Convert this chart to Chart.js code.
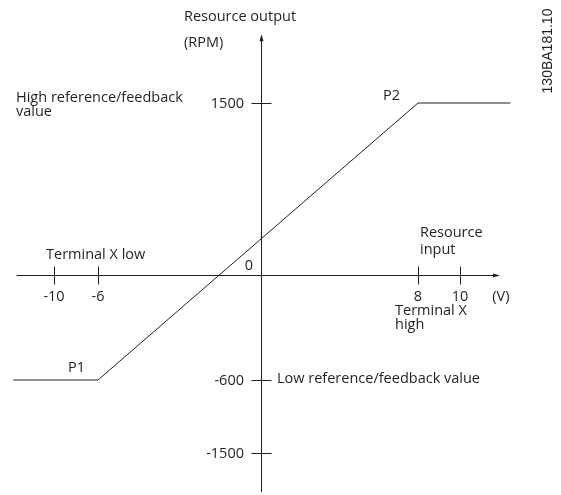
<!DOCTYPE html>
<html><head><meta charset="utf-8">
<script src="https://cdn.jsdelivr.net/npm/chart.js@4/dist/chart.umd.min.js"></script>
<style>html,body{margin:0;padding:0;background:#fff}canvas{display:block}</style>
</head><body>
<canvas id="c" width="561" height="495"></canvas>
<script>
// ---- data ----
const xTickValues = [-10, -6, 8, 10];
const xTickLabels = ['-10', '-6', '8', '10'];
const yTickValues = [1500, -600, -1500];
const yTickLabels = ['1500', '-600', '-1500'];
const curveX = [-13.7, -6, 8, 12.4];     // input (V)
const curveY = [-600, -600, 1500, 1500]; // output (RPM)
const pointNames = ['P1', 'P2'];
const yAxisTitle = ['Resource output', '(RPM)'];
const xAxisTitle = ['Resource', 'input'];
const xUnit = '(V)';
const originLabel = '0';
const highLabel = ['High reference/feedback', 'value'];
const lowLabel = 'Low reference/feedback value';
const xLowLabel = 'Terminal X low';
const xHighLabel = ['Terminal X', 'high'];
const docId = '130BA181.10';

// ---- piecewise (not-to-scale) axis, as in the schematic ----
class PiecewiseScale extends Chart.LinearScale {
  _frac(value) {
    const a = this.options.anchors, n = a.length;
    let i = 0;
    if (value >= a[n - 1][0]) i = n - 2;
    else if (value > a[0][0]) { while (i < n - 2 && value > a[i + 1][0]) i++; }
    const [v0, f0] = a[i], [v1, f1] = a[i + 1];
    return f0 + (value - v0) * (f1 - f0) / (v1 - v0);
  }
  getPixelForValue(value) {
    const f = this._frac(value);
    return this.isHorizontal() ? this.left + f * this.width : this.bottom - f * this.height;
  }
  getValueForPixel(pixel) {
    const f = this.isHorizontal() ? (pixel - this.left) / this.width : (this.bottom - pixel) / this.height;
    const a = this.options.anchors, n = a.length;
    let i = 0;
    if (f >= a[n - 1][1]) i = n - 2;
    else if (f > a[0][1]) { while (i < n - 2 && f > a[i + 1][1]) i++; }
    const [v0, f0] = a[i], [v1, f1] = a[i + 1];
    return v0 + (f - f0) * (v1 - v0) / (f1 - f0);
  }
}
PiecewiseScale.id = 'piecewise';
PiecewiseScale.defaults = {};
Chart.register(PiecewiseScale);

const INK = '#231f20';
const FONT = '14.5px "Open Sans"';
const axisExtent = {xFrom: -13.4, xTo: 11.9, yFrom: -1980, yTo: 2100};

const axesPlugin = {
  id: 'schematicAxes',
  beforeDatasetsDraw(chart) {
    const {ctx} = chart, xs = chart.scales.x, ys = chart.scales.y;
    const ox = Math.round(xs.getPixelForValue(0)) + 0.5;
    const oy = Math.round(ys.getPixelForValue(0)) + 0.5;
    const o = axisExtent;
    ctx.save();
    ctx.strokeStyle = INK; ctx.fillStyle = INK; ctx.lineWidth = 1;
    // x axis
    const xl = xs.getPixelForValue(o.xFrom), xr = xs.getPixelForValue(o.xTo);
    ctx.beginPath(); ctx.moveTo(xl, oy); ctx.lineTo(xr - 4, oy); ctx.stroke();
    ctx.beginPath(); ctx.moveTo(xr, oy); ctx.lineTo(xr - 7, oy - 2); ctx.lineTo(xr - 7, oy + 2); ctx.closePath(); ctx.fill();
    // y axis
    const yt = ys.getPixelForValue(o.yTo), yb = ys.getPixelForValue(o.yFrom);
    ctx.beginPath(); ctx.moveTo(ox, yb); ctx.lineTo(ox, yt + 4); ctx.stroke();
    ctx.beginPath(); ctx.moveTo(ox, yt); ctx.lineTo(ox - 2, yt + 7); ctx.lineTo(ox + 2, yt + 7); ctx.closePath(); ctx.fill();
    // ticks
    xTickValues.forEach(v => {
      const px = Math.round(xs.getPixelForValue(v)) + 0.5;
      ctx.beginPath(); ctx.moveTo(px, oy - 9); ctx.lineTo(px, oy + 9); ctx.stroke();
    });
    yTickValues.forEach(v => {
      const py = Math.round(ys.getPixelForValue(v)) + 0.5;
      ctx.beginPath(); ctx.moveTo(ox - 10, py); ctx.lineTo(ox + 10, py); ctx.stroke();
    });
    ctx.restore();
  },
  afterDraw(chart) {
    const {ctx} = chart, xs = chart.scales.x, ys = chart.scales.y;
    const ox = xs.getPixelForValue(0), oy = ys.getPixelForValue(0);
    ctx.save();
    ctx.fillStyle = INK; ctx.font = FONT; ctx.textBaseline = 'middle';
    const t = (s, x, y, al) => { ctx.textAlign = al || 'left'; ctx.fillText(s, x, y); };
    // tick labels
    xTickValues.forEach((v, i) => t(xTickLabels[i], xs.getPixelForValue(v), oy + 22, 'center'));
    yTickValues.forEach((v, i) => t(yTickLabels[i], ox - 17, ys.getPixelForValue(v) + 1, 'right'));
    t(originLabel, ox - 12, oy - 9, 'center');
    t(xUnit, xs.getPixelForValue(axisExtent.xTo) + 1, oy + 22, 'center');
    // axis titles
    t(yAxisTitle[0], ox - 77, 17);
    t(yAxisTitle[1], ox - 77, 43);
    t(xAxisTitle[0], xs.getPixelForValue(8) + 2, oy - 42);
    t(xAxisTitle[1], xs.getPixelForValue(8) + 2, oy - 25);
    // annotations
    const yHi = ys.getPixelForValue(1500), yLo = ys.getPixelForValue(-600);
    t(highLabel[0], 16, yHi - 5);
    t(highLabel[1], 16, yHi + 9);
    t(lowLabel, ox + 16, yLo - 1);
    t(xLowLabel, xs.getPixelForValue(-10) - 8, oy - 20);
    t(xHighLabel[0], xs.getPixelForValue(8) - 23, oy + 36);
    t(xHighLabel[1], xs.getPixelForValue(8) - 23, oy + 50);
    t(pointNames[0], xs.getPixelForValue(curveX[1]) - 13, ys.getPixelForValue(curveY[1]) - 12, 'right');
    t(pointNames[1], xs.getPixelForValue(curveX[2]) - 18, ys.getPixelForValue(curveY[2]) - 7, 'right');
    // document id, rotated
    ctx.save();
    ctx.translate(548, 51); ctx.rotate(-Math.PI / 2);
    ctx.font = '14px "Liberation Sans"'; ctx.textAlign = 'center';
    ctx.fillText(docId, 0, 0);
    ctx.restore();
    ctx.restore();
  }
};

new Chart(document.getElementById('c'), {
  type: 'scatter',
  data: {
    datasets: [{
      data: curveX.map((x, i) => ({x, y: curveY[i]})),
      showLine: true,
      borderColor: INK,
      borderWidth: 1,
      pointRadius: 0,
      tension: 0,
      clip: false
    }]
  },
  options: {
    responsive: false,
    animation: false,
    devicePixelRatio: 1,
    events: [],
    layout: {padding: 0},
    plugins: {legend: {display: false}, tooltip: {enabled: false}},
    scales: {
      x: {type: 'piecewise', display: false, min: -14, max: 13,
          anchors: [[-10, 0.0963], [-6, 0.1747], [0, 0.4652], [8, 0.7451], [10, 0.8200]]},
      y: {type: 'piecewise', display: false, min: -2000, max: 2100,
          anchors: [[-1500, 0.0848], [-600, 0.2323], [0, 0.4444], [1500, 0.7919]]}
    }
  },
  plugins: [axesPlugin]
});
</script>
</body></html>
